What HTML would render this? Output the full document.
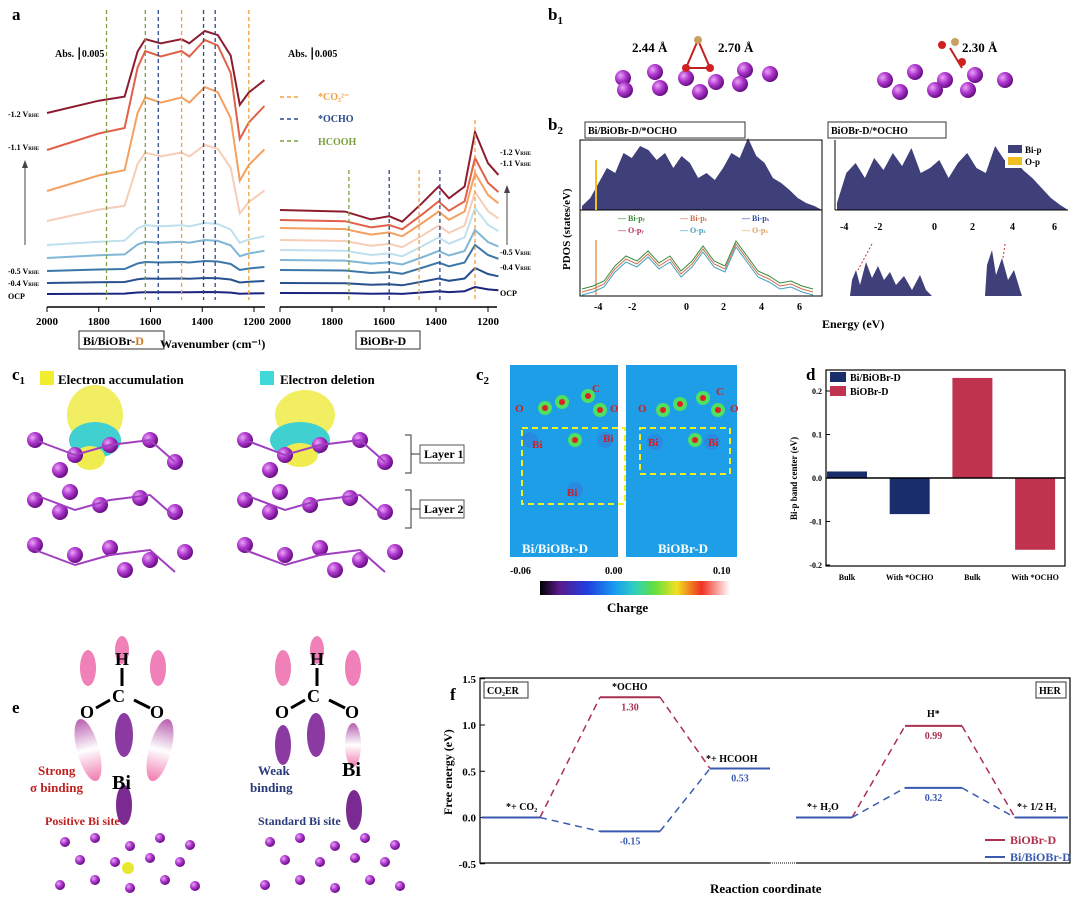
<!DOCTYPE html>
<html><head><meta charset="utf-8">
<style>
body{margin:0;background:#fff;width:1080px;height:908px;overflow:hidden;font-family:"Liberation Serif",serif;}
svg{display:block}
text{font-family:"Liberation Serif",serif;font-weight:bold}
</style></head>
<body>
<svg id="fig" width="1080" height="908" viewBox="0 0 1080 908">
<defs>
<radialGradient id="atom" cx="35%" cy="35%" r="65%"><stop offset="0" stop-color="#e9a6f5"/><stop offset="0.5" stop-color="#b13ad0"/><stop offset="1" stop-color="#6a0f86"/></radialGradient>
<linearGradient id="cbar" x1="0" x2="1"><stop offset="0" stop-color="#000"/><stop offset="0.1" stop-color="#5a1a8a"/><stop offset="0.25" stop-color="#1f3fe0"/><stop offset="0.4" stop-color="#18a0f0"/><stop offset="0.5" stop-color="#30d0c0"/><stop offset="0.6" stop-color="#60e040"/><stop offset="0.72" stop-color="#f0e020"/><stop offset="0.85" stop-color="#f03020"/><stop offset="1" stop-color="#fff"/></linearGradient>
<linearGradient id="pinkfade" x1="0" y1="0" x2="0" y2="1"><stop offset="0" stop-color="#b85fb0"/><stop offset="0.5" stop-color="#fff"/><stop offset="1" stop-color="#f07cb0"/></linearGradient>
</defs>

<!-- Panel a -->
<g id="panelA">
<text x="12" y="20" font-size="17">a</text>
<text x="55" y="57" font-size="10">Abs. ⎮0.005</text>
<text x="288" y="57" font-size="10">Abs. ⎮0.005</text>
<g id="aCurves"></g>
<line x1="47" y1="307" x2="265" y2="307" stroke="#000" stroke-width="1.5"/>
<line x1="280" y1="307" x2="497" y2="307" stroke="#000" stroke-width="1.5"/>
<g id="aTicks" font-size="11"></g>
<text x="160" y="348" font-size="12">Wavenumber (cm⁻¹)</text>
<rect x="79" y="331" width="85" height="18" fill="none" stroke="#333"/>
<text x="83" y="345" font-size="12">Bi/BiOBr-<tspan fill="#d27a20">D</tspan></text>
<rect x="356" y="331" width="64" height="18" fill="none" stroke="#333"/>
<text x="360" y="345" font-size="12">BiOBr-D</text>
<g font-size="8">
<text x="8" y="117">-1.2 V<tspan font-size="5">RHE</tspan></text><text x="8" y="150">-1.1 V<tspan font-size="5">RHE</tspan></text>
<text x="8" y="274">-0.5 V<tspan font-size="5">RHE</tspan></text><text x="8" y="286">-0.4 V<tspan font-size="5">RHE</tspan></text><text x="8" y="299">OCP</text>
<text x="500" y="155">-1.2 V<tspan font-size="5">RHE</tspan></text><text x="500" y="166">-1.1 V<tspan font-size="5">RHE</tspan></text>
<text x="500" y="255">-0.5 V<tspan font-size="5">RHE</tspan></text><text x="500" y="270">-0.4 V<tspan font-size="5">RHE</tspan></text><text x="500" y="296">OCP</text>
</g>
<line x1="25" y1="245" x2="25" y2="165" stroke="#444"/><polygon points="22,168 28,168 25,160" fill="#444"/>
<line x1="507" y1="245" x2="507" y2="190" stroke="#444"/><polygon points="504,193 510,193 507,185" fill="#444"/>
<g font-size="10">
<line x1="280" y1="97" x2="300" y2="97" stroke="#f0a040" stroke-dasharray="4,3" stroke-width="1.5"/><text x="318" y="100" fill="#f0a040">*CO₃²⁻</text>
<line x1="280" y1="119" x2="300" y2="119" stroke="#2a4a8a" stroke-dasharray="4,3" stroke-width="1.5"/><text x="318" y="122" fill="#2a4a8a">*OCHO</text>
<line x1="280" y1="141" x2="300" y2="141" stroke="#7aa040" stroke-dasharray="4,3" stroke-width="1.5"/><text x="318" y="145" fill="#7aa040">HCOOH</text>
</g>
</g>

<!-- Panel b1 -->
<g>
<text x="548" y="20" font-size="17">b<tspan font-size="11" dy="4">1</tspan></text>
<text x="632" y="52" font-size="13">2.44 Å</text><text x="718" y="52" font-size="13">2.70 Å</text>
<text x="962" y="52" font-size="13">2.30 Å</text>
<g id="b1atoms"></g>
<polygon points="686,68 698,40 710,68" fill="none" stroke="#c02020" stroke-width="2"/>
<circle cx="698" cy="40" r="4" fill="#c8a060"/><circle cx="686" cy="68" r="4" fill="#d02020"/><circle cx="710" cy="68" r="4" fill="#d02020"/>
<line x1="950" y1="48" x2="962" y2="68" stroke="#c02020" stroke-width="2"/>
<circle cx="955" cy="42" r="4" fill="#c8a060"/><circle cx="942" cy="45" r="4" fill="#d02020"/><circle cx="962" cy="62" r="4" fill="#d02020"/>
</g>

<!-- Panel b2 -->
<g>
<text x="548" y="130" font-size="17">b<tspan font-size="11" dy="4">2</tspan></text>
<rect x="585" y="122" width="160" height="16" fill="#fff" stroke="#333"/>
<text x="588" y="134" font-size="10">Bi/BiOBr-D/*OCHO</text>
<rect x="828" y="122" width="118" height="16" fill="#fff" stroke="#333"/>
<text x="831" y="134" font-size="10">BiOBr-D/*OCHO</text>
<text x="570" y="270" font-size="11" transform="rotate(-90 570 270)">PDOS (states/eV)</text>
<path id="pdosTop" fill="#3f3f7a"/>
<path id="pdosR" fill="#3f3f7a"/>
<rect x="580" y="140" width="242" height="156" fill="none" stroke="#000"/>
<line x1="580" y1="210" x2="822" y2="210" stroke="#000"/>
<line x1="835" y1="210" x2="1068" y2="210" stroke="#000"/>
<line x1="835" y1="140" x2="835" y2="210" stroke="#000"/>
<rect x="1005" y="140" width="60" height="28" fill="#fff"/>
<rect x="1008" y="145" width="14" height="8" fill="#3f3f7a"/><text x="1025" y="153" font-size="9">Bi-p</text>
<rect x="1008" y="157" width="14" height="8" fill="#f0c020"/><text x="1025" y="165" font-size="9">O-p</text>
<g id="pdosLines"></g>
<g font-size="8">
<text x="618" y="221" fill="#3a8a3a">— Bi-p<tspan font-size="5">y</tspan></text><text x="680" y="221" fill="#d07050">— Bi-p<tspan font-size="5">z</tspan></text><text x="742" y="221" fill="#3050a0">— Bi-p<tspan font-size="5">x</tspan></text>
<text x="618" y="233" fill="#b03060">— O-p<tspan font-size="5">y</tspan></text><text x="680" y="233" fill="#40a0c0">— O-p<tspan font-size="5">z</tspan></text><text x="742" y="233" fill="#e0a060">— O-p<tspan font-size="5">x</tspan></text>
</g>
<g font-size="10">
<text x="594" y="310">-4</text><text x="628" y="310">-2</text><text x="684" y="310">0</text><text x="721" y="310">2</text><text x="759" y="310">4</text><text x="797" y="310">6</text>
<text x="840" y="230">-4</text><text x="874" y="230">-2</text><text x="932" y="230">0</text><text x="970" y="230">2</text><text x="1010" y="230">4</text><text x="1052" y="230">6</text>
</g>
<text x="822" y="328" font-size="12">Energy (eV)</text>
<rect x="848" y="250" width="85" height="48" fill="#fff"/><path d="M850,296 L852,280 856,270 860,285 866,262 872,278 878,266 884,280 890,272 896,285 904,276 912,290 920,275 926,290 932,296Z" fill="#3f3f7a"/>
<path d="M985,296 L987,265 992,250 996,275 1002,258 1008,280 1014,270 1020,290 1022,296Z" fill="#3f3f7a"/>
<line x1="872" y1="244" x2="858" y2="270" stroke="#d03030" stroke-dasharray="2,2"/>
<line x1="1005" y1="244" x2="1003" y2="258" stroke="#d03030" stroke-dasharray="2,2"/>
</g>

<!-- Panel c1 -->
<g>
<text x="12" y="380" font-size="17">c<tspan font-size="11" dy="4">1</tspan></text>
<rect x="40" y="371" width="14" height="14" fill="#f0ec30"/><text x="58" y="384" font-size="13">Electron accumulation</text>
<rect x="260" y="371" width="14" height="14" fill="#40d8d8"/><text x="280" y="384" font-size="13">Electron deletion</text>
<ellipse cx="95" cy="415" rx="28" ry="30" fill="#f0ec50" opacity="0.9"/><ellipse cx="95" cy="440" rx="26" ry="18" fill="#40d0d0"/><ellipse cx="90" cy="458" rx="15" ry="12" fill="#f0ec50"/>
<ellipse cx="305" cy="415" rx="30" ry="25" fill="#f0ec50" opacity="0.9"/><ellipse cx="300" cy="440" rx="30" ry="18" fill="#40d0d0"/><ellipse cx="300" cy="455" rx="18" ry="12" fill="#f0ec50"/>
<g id="c1atoms"></g>
<g font-size="12"><path d="M405,435 h6 v38 h-6 M411,454 h10" fill="none" stroke="#333"/><rect x="420" y="445" width="44" height="18" fill="#fff" stroke="#555"/><text x="424" y="458">Layer 1</text>
<path d="M405,490 h6 v38 h-6 M411,509 h10" fill="none" stroke="#333"/><rect x="420" y="500" width="44" height="18" fill="#fff" stroke="#555"/><text x="424" y="513">Layer 2</text></g>
</g>

<!-- Panel c2 -->
<g>
<text x="476" y="380" font-size="17">c<tspan font-size="11" dy="4">2</tspan></text>
<rect x="510" y="365" width="110" height="192" fill="#1e9ee6"/><rect x="625" y="365" width="112" height="192" fill="#1e9ee6"/>
<rect x="618" y="365" width="8" height="192" fill="#fff"/>
<g id="c2spots"></g>
<rect x="522" y="428" width="103" height="76" fill="none" stroke="#f0f020" stroke-width="2" stroke-dasharray="6,4"/>
<rect x="640" y="428" width="90" height="46" fill="none" stroke="#f0f020" stroke-width="2" stroke-dasharray="6,4"/>
<g font-size="11" fill="#d02020"><text x="532" y="448">Bi</text><text x="603" y="442">Bi</text><text x="567" y="496">Bi</text><text x="648" y="446">Bi</text><text x="708" y="446">Bi</text>
<text x="515" y="412">O</text><text x="592" y="392">C</text><text x="610" y="412">O</text><text x="638" y="412">O</text><text x="716" y="395">C</text><text x="730" y="412">O</text></g>
<text x="522" y="553" font-size="13" fill="#fff">Bi/BiOBr-D</text><text x="658" y="553" font-size="13" fill="#fff">BiOBr-D</text>
<rect x="540" y="581" width="190" height="14" fill="url(#cbar)"/>
<g font-size="10"><text x="510" y="574">-0.06</text><text x="605" y="574">0.00</text><text x="713" y="574">0.10</text></g>
<text x="607" y="612" font-size="13">Charge</text>
</g>

<!-- Panel d -->
<g id="panelD">
<text x="806" y="380" font-size="17">d</text>
<rect x="826" y="370" width="239" height="196" fill="none" stroke="#000" stroke-width="1.2"/>
<g id="dBars"></g>
<g id="dTicks" font-size="8"></g>
<text x="797" y="520" font-size="9" transform="rotate(-90 797 520)">Bi-p band center (eV)</text>
<rect x="830" y="372" width="16" height="10" fill="#1a2d6b"/><text x="850" y="381" font-size="10">Bi/BiOBr-D</text>
<rect x="830" y="386" width="16" height="10" fill="#c0334f"/><text x="850" y="395" font-size="10">BiOBr-D</text>
</g>

<!-- Panel e -->
<g>
<text x="12" y="713" font-size="17">e</text>
<ellipse cx="88" cy="668" rx="8" ry="18" fill="#f080b8"/><ellipse cx="158" cy="668" rx="8" ry="18" fill="#f080b8"/><ellipse cx="122" cy="650" rx="7" ry="14" fill="#f080b8"/>
<ellipse cx="283" cy="668" rx="8" ry="18" fill="#f080b8"/><ellipse cx="353" cy="668" rx="8" ry="18" fill="#f080b8"/><ellipse cx="317" cy="650" rx="7" ry="14" fill="#f080b8"/>
<ellipse cx="124" cy="735" rx="9" ry="22" fill="#8a3aa0"/><ellipse cx="88" cy="750" rx="11" ry="32" fill="url(#pinkfade)" transform="rotate(-15 88 750)"/><ellipse cx="160" cy="750" rx="11" ry="32" fill="url(#pinkfade)" transform="rotate(15 160 750)"/>
<ellipse cx="124" cy="805" rx="8" ry="20" fill="#7a2a90"/>
<ellipse cx="316" cy="735" rx="9" ry="22" fill="#8a3aa0"/><ellipse cx="283" cy="745" rx="8" ry="20" fill="#8a3aa0"/><ellipse cx="353" cy="745" rx="8" ry="22" fill="url(#pinkfade)"/>
<ellipse cx="354" cy="810" rx="8" ry="20" fill="#7a2a90"/>
<g font-size="18" font-family="Liberation Sans"><text x="115" y="665">H</text><text x="112" y="702">C</text><text x="80" y="718">O</text><text x="150" y="718">O</text>
<text x="310" y="665">H</text><text x="307" y="702">C</text><text x="275" y="718">O</text><text x="345" y="718">O</text></g>
<line x1="122" y1="668" x2="122" y2="686" stroke="#000" stroke-width="3"/><line x1="317" y1="668" x2="317" y2="686" stroke="#000" stroke-width="3"/>
<line x1="110" y1="700" x2="96" y2="708" stroke="#000" stroke-width="3"/><line x1="134" y1="700" x2="150" y2="708" stroke="#000" stroke-width="3"/>
<line x1="305" y1="700" x2="291" y2="708" stroke="#000" stroke-width="3"/><line x1="329" y1="700" x2="345" y2="708" stroke="#000" stroke-width="3"/>
<text x="112" y="789" font-size="20" font-family="Liberation Sans">Bi</text><text x="342" y="776" font-size="20" font-family="Liberation Sans">Bi</text>
<text x="38" y="775" font-size="13" fill="#c02020">Strong</text><text x="30" y="792" font-size="13" fill="#c02020">σ binding</text>
<text x="258" y="775" font-size="13" fill="#2a3a7a">Weak</text><text x="250" y="792" font-size="13" fill="#2a3a7a">binding</text>
<text x="45" y="825" font-size="12" fill="#c02020">Positive Bi site</text><text x="258" y="825" font-size="12" fill="#2a3a7a">Standard Bi site</text>
<g id="eatoms"></g>
<circle cx="128" cy="868" r="6" fill="#e8e830"/>
</g>

<!-- Panel f -->
<g id="panelF">
<text x="450" y="700" font-size="17">f</text>
<rect x="480" y="678" width="590" height="185" fill="none" stroke="#000" stroke-width="1.2"/>
<g id="fTicks" font-size="11"></g>
<g id="fLines"></g>
<text x="452" y="815" font-size="12" transform="rotate(-90 452 815)">Free energy (eV)</text>
<text x="710" y="893" font-size="13">Reaction coordinate</text>
<rect x="484" y="682" width="44" height="16" fill="#fff" stroke="#333"/><text x="487" y="694" font-size="10">CO₂ER</text>
<rect x="1036" y="682" width="30" height="16" fill="#fff" stroke="#333"/><text x="1039" y="694" font-size="10">HER</text>
<g font-size="10">
<text x="506" y="810">*+ CO₂</text><text x="612" y="690">*OCHO</text><text x="706" y="762">*+ HCOOH</text>
<text x="807" y="810">*+ H₂O</text><text x="927" y="717">H*</text><text x="1017" y="810">*+ 1/2 H₂</text>
</g>
<line x1="985" y1="840" x2="1005" y2="840" stroke="#b03050" stroke-width="2"/><text x="1010" y="844" font-size="12" fill="#b03050">BiOBr-D</text>
<line x1="985" y1="857" x2="1005" y2="857" stroke="#3a5ab0" stroke-width="2"/><text x="1010" y="861" font-size="12" fill="#3a5ab0">Bi/BiOBr-D</text>
<line x1="770" y1="863" x2="796" y2="863" stroke="#fff" stroke-width="3"/><line x1="770" y1="863" x2="796" y2="863" stroke="#000" stroke-dasharray="1,1"/>
</g>
</svg>

<script>
const NS="http://www.w3.org/2000/svg";
function mk(tag,attrs,parent){const e=document.createElementNS(NS,tag);for(const k in attrs)e.setAttribute(k,attrs[k]);parent.appendChild(e);return e;}

/* ---------- Panel d data ---------- */
const dCategories=["Bulk","With *OCHO","Bulk","With *OCHO"];
const dValues=[0.015,-0.083,0.23,-0.165];
const dColors=["#1a2d6b","#1a2d6b","#c0334f","#c0334f"];
const dTickVals=[-0.2,-0.1,0.0,0.1,0.2];
(function(){
 const g=document.getElementById("dBars"),t=document.getElementById("dTicks");
 const y=v=>478-v*435, x=i=>847+i*62.7;
 dValues.forEach((v,i)=>{
  const r=mk("rect",{x:x(i)-20,y:Math.min(y(v),y(0)),width:40,height:Math.abs(y(v)-y(0)),fill:dColors[i]},g);
  
  
  const l=mk("text",{x:x(i),y:580,"text-anchor":"middle"},t);l.textContent=dCategories[i];
  
  
 });
 mk("line",{x1:826,x2:1065,y1:y(0),y2:y(0),stroke:"#000","stroke-width":1.5},g);
 dTickVals.forEach(v=>{
  mk("line",{x1:826,x2:830,y1:y(v),y2:y(v),stroke:"#000"},t);
  const l=mk("text",{x:822,y:y(v)+3,"text-anchor":"end"},t);l.textContent=v.toFixed(1);
  
  
 });
})();

/* ---------- Panel f data ---------- */
const fBlue=[0,-0.15,0.53];
const fRed=[0,1.30,0.53];
const fHerBlue=[0,0.32,0];
const fHerRed=[0,0.99,0];
const fTickVals=[-0.5,0.0,0.5,1.0,1.5];
(function(){
 const g=document.getElementById("fLines"),t=document.getElementById("fTicks");
 const y=v=>817.5-v*92.5;
 const co2X=[[482,540],[600,660],[710,770]], herX=[[796,852],[905,962],[1015,1068]];
 function draw(vals,xs,col,name,labelIdx){
  vals.forEach((v,i)=>{
   const ln=mk("line",{x1:xs[i][0],x2:xs[i][1],y1:y(v),y2:y(v),stroke:col,"stroke-width":2},g);
   
   
   if(i>0){mk("line",{x1:xs[i-1][1],y1:y(vals[i-1]),x2:xs[i][0],y2:y(v),stroke:col,"stroke-width":1.5,"stroke-dasharray":"7,5"},g);}
   if(labelIdx.includes(i)){const tx=mk("text",{x:(xs[i][0]+xs[i][1])/2,y:y(v)+13,"text-anchor":"middle","font-size":10,fill:col},g);tx.textContent=v.toFixed(2);
    
    }
  });
 }
 draw(fRed,co2X,"#a83050","co2er-biobr",[1]);
 draw(fBlue,co2X,"#3a5ab0","co2er-bi-biobr",[1,2]);
 draw(fHerRed,herX,"#a83050","her-biobr",[1]);
 draw(fHerBlue,herX,"#3a5ab0","her-bi-biobr",[1]);
 fTickVals.forEach(v=>{
  mk("line",{x1:480,x2:485,y1:y(v),y2:y(v),stroke:"#000"},t);
  const l=mk("text",{x:476,y:y(v)+4,"text-anchor":"end"},t);l.textContent=v.toFixed(1);
  
  
 });
})();

/* ---------- Panel a spectra ---------- */
const aLeftBase=[294,283,271,258,245,221,191,150,113];
const aLeftAmp=[2,5,10,18,22,76,104,110,82];
const aRightBase=[293,283,270,260,250,240,228,220,210];
const aRightAmp=[6,15,25,30,42,48,55,62,78];
const aColors=["#1a237e","#28508f","#3d77aa","#80b6d6","#bfe0ee","#f6cdb8","#f4a060","#e0604a","#8e1c30"];
const aTickLabels=[2000,1800,1600,1400,1200];
(function(){
 const g=document.getElementById("aCurves"),t=document.getElementById("aTicks");
 const xl=w=>47+(2000-w)*(207/800), xr=w=>280+(2000-w)*(208/800);
 const L=[[2000,0],[1800,0.15],[1700,0.2],[1650,0.75],[1620,0.9],[1560,0.85],[1480,0.9],[1450,0.85],[1390,1.0],[1340,0.95],[1290,0.7],[1255,0.1],[1220,0.25],[1160,0.4]];
 const R=[[2000,0],[1750,-0.02],[1650,-0.12],[1580,-0.08],[1530,-0.15],[1450,0.1],[1390,0.3],[1350,0.15],[1290,0.3],[1250,1.0],[1200,0.6],[1160,0.45]];
 aColors.forEach((c,i)=>{
  const pl=L.map(p=>xl(p[0]).toFixed(1)+","+(aLeftBase[i]-p[1]*aLeftAmp[i]).toFixed(1)).join(" ");
  const a=mk("polyline",{points:pl,fill:"none",stroke:c,"stroke-width":2},g);
  
  
  const pr=R.map(p=>xr(p[0]).toFixed(1)+","+(aRightBase[i]-p[1]*aRightAmp[i]).toFixed(1)).join(" ");
  const b=mk("polyline",{points:pr,fill:"none",stroke:c,"stroke-width":2},g);
  
  
 });
 [[1770,"#7aa040"],[1620,"#7aa040"],[1570,"#2a4a8a"],[1480,"#f0a040"],[1395,"#2a4a8a"],[1350,"#2a4a8a"],[1220,"#f0a040"]].forEach(d=>mk("line",{x1:xl(d[0]),x2:xl(d[0]),y1:10,y2:300,stroke:d[1],"stroke-dasharray":"4,3","stroke-width":1.3},g));
 [[1735,"#7aa040"],[1580,"#2a4a8a"],[1465,"#f0a040"],[1385,"#2a4a8a"],[1250,"#f0a040"]].forEach(d=>mk("line",{x1:xr(d[0]),x2:xr(d[0]),y1:d[0]==1250?120:170,y2:300,stroke:d[1],"stroke-dasharray":"4,3","stroke-width":1.3},g));
 aTickLabels.forEach(w=>{
  [xl,xr].forEach(f=>{
   mk("line",{x1:f(w),x2:f(w),y1:307,y2:312,stroke:"#000"},t);
   const l=mk("text",{x:f(w),y:325,"text-anchor":"middle"},t);l.textContent=w;
   
   
  });
 });
})();

/* ---------- PDOS fills (approximate) ---------- */
const pdosTopH=[2,10,25,40,35,55,50,62,58,48,55,40,52,45,30,35,28,40,55,50,70,52,45,30,25,18,10,5,2];
const pdosRH=[5,35,45,30,50,38,55,42,60,35,40,48,30,45,55,40,35,62,48,50,38,30,20,10,3];
(function(){
 let d="M582,210";pdosTopH.forEach((h,i)=>{d+=" L"+(582+i*8.3).toFixed(1)+","+(208-h);});d+=" L822,210Z";
 document.getElementById("pdosTop").setAttribute("d",d);
 let e="M837,210";pdosRH.forEach((h,i)=>{e+=" L"+(837+i*9.3).toFixed(1)+","+(208-h);});e+=" L1068,210Z";
 document.getElementById("pdosR").setAttribute("d",e);
 const g=document.getElementById("pdosLines");
 mk("line",{x1:596,x2:596,y1:160,y2:210,stroke:"#f0c020","stroke-width":2},g);
 mk("line",{x1:596,x2:596,y1:240,y2:295,stroke:"#f0b080","stroke-width":2},g);
 const lowH=[2,5,10,25,35,30,40,28,35,20,30,45,30,25,50,35,20,15,8,10,5,2];
 [["#d07050",0],["#40a0c0",3],["#3a8a3a",-3]].forEach(c=>{
  let p=lowH.map((h,i)=>(582+i*11)+","+(294-h+c[1])).join(" ");
  mk("polyline",{points:p,fill:"none",stroke:c[0],"stroke-width":1},g);
 });
})();

/* ---------- atoms ---------- */
function atom(g,x,y,r){mk("circle",{cx:x,cy:y,r:r,fill:"url(#atom)"},g);}
(function(){
 const b=document.getElementById("b1atoms");
 [[623,78],[655,72],[686,78],[716,82],[745,70],[625,90],[660,88],[700,92],[740,84],[770,74]].forEach(p=>atom(b,p[0],p[1],8));
 [[885,80],[915,72],[945,80],[975,75],[1005,80],[900,92],[935,90],[968,90]].forEach(p=>atom(b,p[0],p[1],8));
 const c=document.getElementById("c1atoms");
 [0,210].forEach(o=>{
  [[35,440],[75,455],[110,445],[150,440],[175,462],[60,470]].forEach(p=>atom(c,p[0]+o,p[1],8));
  [[35,500],[70,492],[100,505],[140,498],[175,512],[60,512]].forEach(p=>atom(c,p[0]+o,p[1],8));
  [[35,545],[75,555],[110,548],[150,560],[185,552],[125,570]].forEach(p=>atom(c,p[0]+o,p[1],8));
  for(let k=0;k<3;k++){mk("polyline",{points:[[35,440+k*55],[75,455+k*55],[110,445+k*55],[150,440+k*55],[175,462+k*55]].map(q=>(q[0]+o)+","+q[1]).join(" "),fill:"none",stroke:"#a040c0","stroke-width":2},c);}
 });
 const e=document.getElementById("eatoms");
 [0,205].forEach(o=>{
  [[65,842],[95,838],[130,846],[160,838],[190,845],[80,860],[115,862],[150,858],[180,862],[60,885],[95,880],[130,888],[165,880],[195,886]].forEach(p=>atom(e,p[0]+o,p[1],5));
 });
 const s=document.getElementById("c2spots");
 [[545,408],[562,402],[588,396],[600,410],[663,410],[680,404],[703,398],[718,410],[575,440],[695,440]].forEach(p=>{
  mk("circle",{cx:p[0],cy:p[1],r:7,fill:"#50e060"},s);mk("circle",{cx:p[0],cy:p[1],r:3,fill:"#e02020"},s);
 });
 [[530,440],[605,440],[575,490],[655,442],[712,442]].forEach(p=>mk("circle",{cx:p[0],cy:p[1],r:8,fill:"#2a8ae0"},s));
})();
</script>
</body></html>
